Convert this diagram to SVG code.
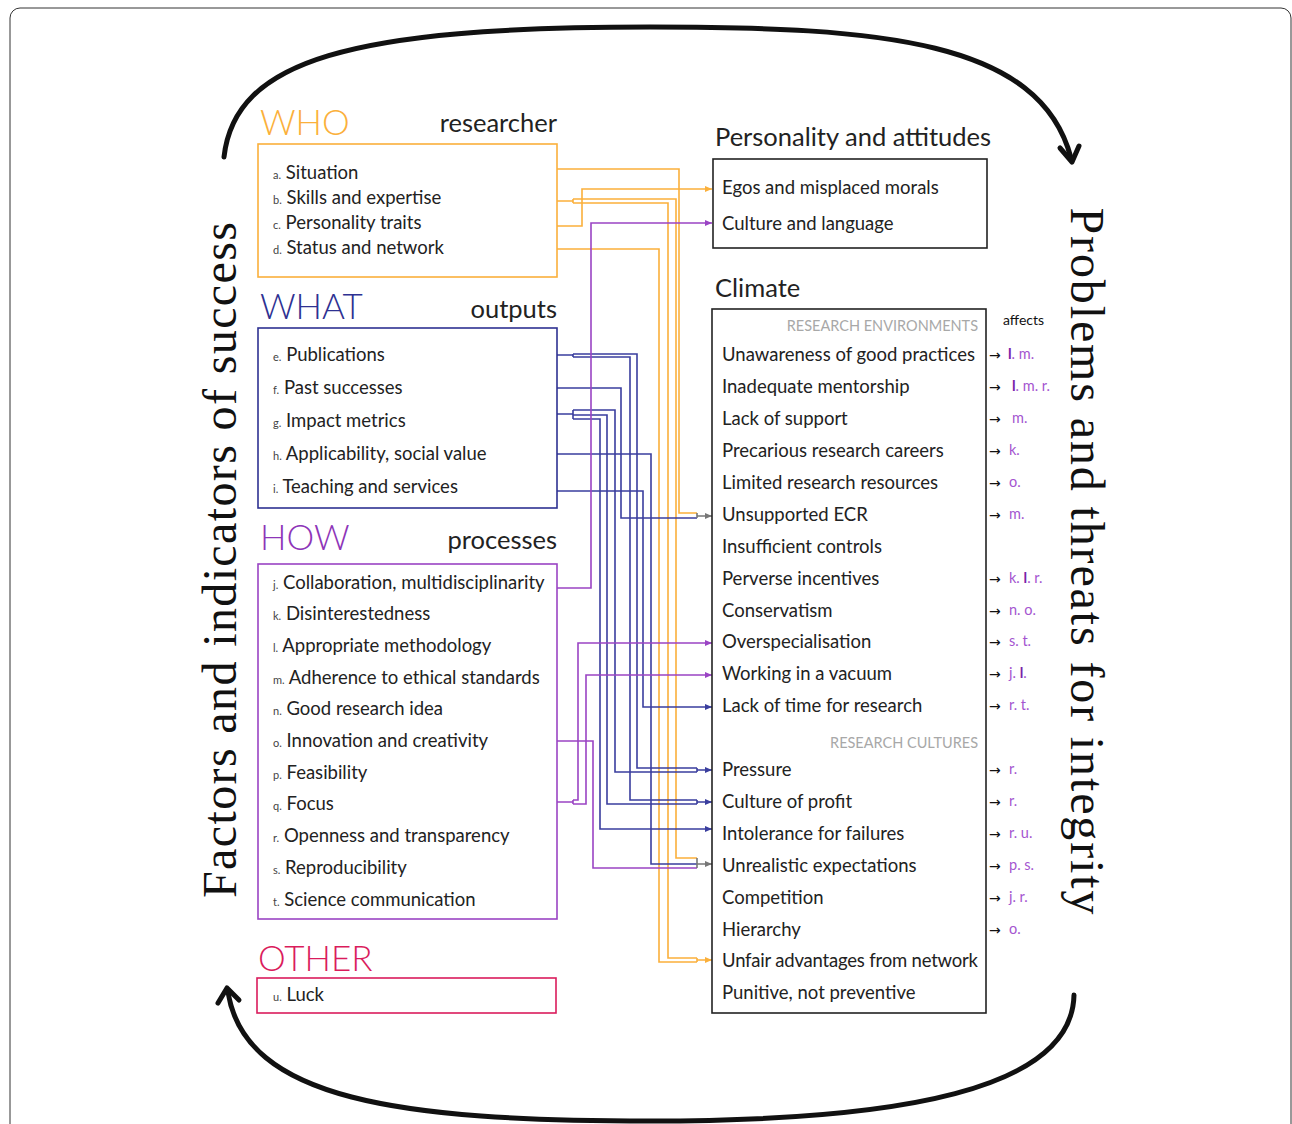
<svg xmlns="http://www.w3.org/2000/svg" width="1292" height="1124" viewBox="0 0 1292 1124">
<defs>
<style>
.sans{font-family:Lato,"Noto Sans","Liberation Sans",sans-serif;}
.item{font-family:Lato,"Noto Sans","Liberation Sans",sans-serif;font-size:18.5px;fill:#222;}
.lt{font-size:11px;fill:#444;}
.title{font-family:Lato,"Noto Sans","Liberation Sans",sans-serif;font-size:35px;font-weight:300;}
.sub{font-family:Lato,"Noto Sans","Liberation Sans",sans-serif;font-size:25.5px;fill:#222;text-anchor:end;}
.head{font-family:Lato,"Noto Sans","Liberation Sans",sans-serif;font-size:25.5px;fill:#222;}
.sec{font-family:Lato,"Noto Sans","Liberation Sans",sans-serif;font-size:14.5px;fill:#A8A8A8;text-anchor:end;}
.aff{font-family:Lato,"Noto Sans","Liberation Sans",sans-serif;font-size:14.5px;fill:#A455D0;}
.arr{font-family:"DejaVu Sans",sans-serif;font-size:14px;fill:#111;}
.b{font-weight:bold;fill:#7A22A8;}
.big{font-family:"Liberation Serif",serif;font-size:48px;fill:#111;text-anchor:middle;}
.box{fill:none;stroke-width:1.6;}
.c{fill:none;stroke-width:1.6;}
.y{stroke:#FBB03B;}
.bl{stroke:#3A3E9E;}
.p{stroke:#9A44C4;}
.g{stroke:#777;}
.loop{fill:none;stroke:#111;stroke-width:5;stroke-linecap:round;stroke-linejoin:round;}
</style>
<marker id="ay" markerWidth="7" markerHeight="6" refX="7" refY="3" orient="auto" markerUnits="userSpaceOnUse"><path d="M0,0 L7,3 L0,6 Z" fill="#FBB03B"/></marker>
<marker id="ab" markerWidth="7" markerHeight="6" refX="7" refY="3" orient="auto" markerUnits="userSpaceOnUse"><path d="M0,0 L7,3 L0,6 Z" fill="#3A3E9E"/></marker>
<marker id="ap" markerWidth="7" markerHeight="6" refX="7" refY="3" orient="auto" markerUnits="userSpaceOnUse"><path d="M0,0 L7,3 L0,6 Z" fill="#9A44C4"/></marker>
<marker id="ag" markerWidth="7" markerHeight="6" refX="7" refY="3" orient="auto" markerUnits="userSpaceOnUse"><path d="M0,0 L7,3 L0,6 Z" fill="#777"/></marker>
</defs>
<rect width="1292" height="1124" fill="#fff"/>
<rect x="10" y="8" width="1281" height="1150" rx="10" fill="none" stroke="#333" stroke-width="1"/>

<g id="loops">
<path class="loop" d="M224,157 C235,60 350,27 650,27 C880,27 1040,40 1071,158"/>
<polyline class="loop" points="1060,148 1072,162 1079,146"/>
<path class="loop" d="M1074,995 C1072,1090 900,1121 650,1121 C400,1121 245,1100 228,992"/>
<polyline class="loop" points="218,1003 227,988 239,1000"/>
</g>

<g id="side-titles">
<text class="big" transform="translate(236,560) rotate(-90)" textLength="676" lengthAdjust="spacing">Factors and indicators of success</text>
<text class="big" transform="translate(1071,561) rotate(90)" textLength="707" lengthAdjust="spacing">Problems and threats for integrity</text>
</g>

<g id="connectors">
<!-- WHO -->
<path class="c y" d="M557,169 H679 V513 H697"/>
<path class="c y" d="M557,201 H573 M573,199 V203 M573,199 H676 V858 H697 M573,203 H668 V958 H697"/>
<path class="c y" d="M557,226 H582 V189 H712" marker-end="url(#ay)"/>
<path class="c y" d="M557,249 H659 V962 H697"/>
<!-- WHAT -->
<path class="c bl" d="M557,355 H573 M573,354 V357 M573,354 H637 V768 H697 M573,357 H630 V800 H697"/>
<path class="c bl" d="M557,388 H621 V518 H697"/>
<path class="c bl" d="M557,414 H573 M573,410 V419 M573,410 H615 V772 H697 M573,415 H607 V804 H697"/>
<path class="c bl" d="M573,419 H600 V829 H712" marker-end="url(#ab)"/>
<path class="c bl" d="M557,454 H651 V864 H697"/>
<path class="c bl" d="M557,491 H643 V707 H712" marker-end="url(#ab)"/>
<!-- HOW -->
<path class="c p" d="M557,588 H591 V223 H712" marker-end="url(#ap)"/>
<path class="c p" d="M557,741 H593 V868 H697"/>
<path class="c p" d="M557,802 H573 M573,800 V804 M573,800 H578 V643 H712" marker-end="url(#ap)"/>
<path class="c p" d="M573,804 H586 V675 H712" marker-end="url(#ap)"/>
<!-- junctions and arrows -->
<path class="c g" d="M697,513 V518 M697,516 H712" marker-end="url(#ag)"/>
<path class="c bl" d="M697,768 V772 M697,770 H712" marker-end="url(#ab)"/>
<path class="c bl" d="M697,800 V804 M697,802 H712" marker-end="url(#ab)"/>
<path class="c g" d="M697,858 V868 M697,864 H712" marker-end="url(#ag)"/>
<path class="c y" d="M697,958 V962 M697,960 H712" marker-end="url(#ay)"/>
</g>

<g id="who">
<text class="title" x="260" y="135" fill="#FBB03B">WHO</text>
<text class="sub" x="557" y="132">researcher</text>
<rect class="box" x="258" y="144" width="299" height="133" stroke="#FBB03B"/>
<text class="item" x="273" y="179"><tspan class="lt">a.</tspan> Situation</text>
<text class="item" x="273" y="204"><tspan class="lt">b.</tspan> Skills and expertise</text>
<text class="item" x="273" y="229"><tspan class="lt">c.</tspan> Personality traits</text>
<text class="item" x="273" y="254"><tspan class="lt">d.</tspan> Status and network</text>
</g>

<g id="what">
<text class="title" x="260" y="319" fill="#2E3192">WHAT</text>
<text class="sub" x="557" y="318">outputs</text>
<rect class="box" x="258" y="328" width="299" height="180" stroke="#2E3192"/>
<text class="item" x="273" y="361"><tspan class="lt">e.</tspan> Publications</text>
<text class="item" x="273" y="394"><tspan class="lt">f.</tspan> Past successes</text>
<text class="item" x="273" y="427"><tspan class="lt">g.</tspan> Impact metrics</text>
<text class="item" x="273" y="460"><tspan class="lt">h.</tspan> Applicability, social value</text>
<text class="item" x="273" y="493"><tspan class="lt">i.</tspan> Teaching and services</text>
</g>

<g id="how">
<text class="title" x="260" y="550" fill="#8E35B8">HOW</text>
<text class="sub" x="557" y="549">processes</text>
<rect class="box" x="258" y="564" width="299" height="355" stroke="#9A44C4"/>
<text class="item" x="273" y="589"><tspan class="lt">j.</tspan> Collaboration, multidisciplinarity</text>
<text class="item" x="273" y="620"><tspan class="lt">k.</tspan> Disinterestedness</text>
<text class="item" x="273" y="652"><tspan class="lt">l.</tspan> Appropriate methodology</text>
<text class="item" x="273" y="684"><tspan class="lt">m.</tspan> Adherence to ethical standards</text>
<text class="item" x="273" y="715"><tspan class="lt">n.</tspan> Good research idea</text>
<text class="item" x="273" y="747"><tspan class="lt">o.</tspan> Innovation and creativity</text>
<text class="item" x="273" y="779"><tspan class="lt">p.</tspan> Feasibility</text>
<text class="item" x="273" y="810"><tspan class="lt">q.</tspan> Focus</text>
<text class="item" x="273" y="842"><tspan class="lt">r.</tspan> Openness and transparency</text>
<text class="item" x="273" y="874"><tspan class="lt">s.</tspan> Reproducibility</text>
<text class="item" x="273" y="906"><tspan class="lt">t.</tspan> Science communication</text>
</g>

<g id="other">
<text class="title" x="258" y="971" fill="#DA1C5C">OTHER</text>
<rect class="box" x="257" y="978" width="299" height="35" stroke="#DA1C5C"/>
<text class="item" x="273" y="1001"><tspan class="lt">u.</tspan> Luck</text>
</g>

<g id="personality">
<text class="head" x="715" y="146">Personality and attitudes</text>
<rect class="box" x="713" y="159" width="274" height="89" stroke="#222"/>
<text class="item" x="722" y="194">Egos and misplaced morals</text>
<text class="item" x="722" y="230">Culture and language</text>
</g>

<g id="climate">
<text class="head" x="715" y="297">Climate</text>
<rect class="box" x="712" y="309" width="274" height="704" stroke="#222"/>
<text class="sec" x="978" y="331">RESEARCH ENVIRONMENTS</text>
<text class="item" x="722" y="361">Unawareness of good practices</text>
<text class="item" x="722" y="393">Inadequate mentorship</text>
<text class="item" x="722" y="425">Lack of support</text>
<text class="item" x="722" y="457">Precarious research careers</text>
<text class="item" x="722" y="489">Limited research resources</text>
<text class="item" x="722" y="521">Unsupported ECR</text>
<text class="item" x="722" y="553">Insufficient controls</text>
<text class="item" x="722" y="585">Perverse incentives</text>
<text class="item" x="722" y="617">Conservatism</text>
<text class="item" x="722" y="648">Overspecialisation</text>
<text class="item" x="722" y="680">Working in a vacuum</text>
<text class="item" x="722" y="712">Lack of time for research</text>
<text class="sec" x="978" y="748">RESEARCH CULTURES</text>
<text class="item" x="722" y="776">Pressure</text>
<text class="item" x="722" y="808">Culture of profit</text>
<text class="item" x="722" y="840">Intolerance for failures</text>
<text class="item" x="722" y="872">Unrealistic expectations</text>
<text class="item" x="722" y="904">Competition</text>
<text class="item" x="722" y="936">Hierarchy</text>
<text class="item" x="722" y="967" textLength="256" lengthAdjust="spacing">Unfair advantages from network</text>
<text class="item" x="722" y="999">Punitive, not preventive</text>
</g>

<g id="affects">
<text class="sans" x="1003" y="325" font-size="14" fill="#111">affects</text>
<text class="arr" x="989" y="360">→</text><text class="aff" x="1008" y="359"><tspan class="b">l</tspan>. m.</text>
<text class="arr" x="989" y="392">→</text><text class="aff" x="1012" y="391"><tspan class="b">l</tspan>. m. r.</text>
<text class="arr" x="989" y="424">→</text><text class="aff" x="1012" y="423">m.</text>
<text class="arr" x="989" y="456">→</text><text class="aff" x="1009" y="455">k.</text>
<text class="arr" x="989" y="488">→</text><text class="aff" x="1009" y="487">o.</text>
<text class="arr" x="989" y="520">→</text><text class="aff" x="1009" y="519">m.</text>
<text class="arr" x="989" y="584">→</text><text class="aff" x="1009" y="583">k. <tspan class="b">l</tspan>. r.</text>
<text class="arr" x="989" y="616">→</text><text class="aff" x="1009" y="615">n. o.</text>
<text class="arr" x="989" y="647">→</text><text class="aff" x="1009" y="646">s. t.</text>
<text class="arr" x="989" y="679">→</text><text class="aff" x="1009" y="678">j. <tspan class="b">l</tspan>.</text>
<text class="arr" x="989" y="711">→</text><text class="aff" x="1009" y="710">r. t.</text>
<text class="arr" x="989" y="775">→</text><text class="aff" x="1009" y="774">r.</text>
<text class="arr" x="989" y="807">→</text><text class="aff" x="1009" y="806">r.</text>
<text class="arr" x="989" y="839">→</text><text class="aff" x="1009" y="838">r. u.</text>
<text class="arr" x="989" y="871">→</text><text class="aff" x="1009" y="870">p. s.</text>
<text class="arr" x="989" y="903">→</text><text class="aff" x="1009" y="902">j. r.</text>
<text class="arr" x="989" y="935">→</text><text class="aff" x="1009" y="934">o.</text>
</g>
</svg>
